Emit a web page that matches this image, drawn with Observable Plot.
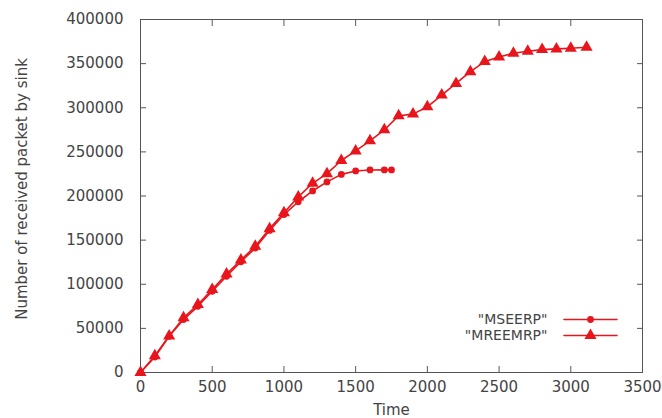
<!DOCTYPE html>
<html><head><meta charset="utf-8">
<script src="https://cdn.jsdelivr.net/npm/d3@7"></script>
<script src="https://cdn.jsdelivr.net/npm/@observablehq/plot@0.6"></script>
<style>body{margin:0;background:#fff;}</style>
</head><body><div id="chart"></div>
<script>
const seriesNames = ['"MSEERP"', '"MREEMRP"'];
const mseerpTime = [0,100,200,300,400,500,600,700,800,900,1000,1100,1200,1300,1400,1500,1600,1700,1750];
const mseerpPackets = [0,17500,41000,60000,75000,92000,109000,125500,141000,161000,179000,193500,205700,216000,224500,228400,229500,229600,229600];
const mreemrpTime = [0,100,200,300,400,500,600,700,800,900,1000,1100,1200,1300,1400,1500,1600,1700,1800,1900,2000,2100,2200,2300,2400,2500,2600,2700,2800,2900,3000,3110];
const mreemrpPackets = [0,19000,41500,62000,77000,94000,111500,127500,143000,163000,181000,199000,214400,225300,240200,251100,262500,275000,290900,292800,301100,314400,327600,340900,352300,357600,361700,364000,365900,366700,367400,368500];
const xTicks = [0,500,1000,1500,2000,2500,3000,3500];
const yTicks = [0,50000,100000,150000,200000,250000,300000,350000,400000];
const xLabel = "Time";
const yLabel = "Number of received packet by sink";

const red = "#e8161c";
const axisColor = "#555";
const rows1 = mseerpTime.map((t, i) => ({t, v: mseerpPackets[i]}));
const rows2 = mreemrpTime.map((t, i) => ({t, v: mreemrpPackets[i]}));
const lineShape = {draw(c, l) { c.moveTo(0, 0); c.lineTo(0, -l); }};

const chart = Plot.plot({
  width: 662, height: 418,
  marginLeft: 140, marginRight: 20, marginTop: 19, marginBottom: 46,
  style: {fontFamily: "DejaVu Sans", fontSize: "15px", color: "#444", background: "#fff"},
  x: {domain: [0, 3500]},
  y: {domain: [0, 400000]},
  marks: [
    Plot.axisX({ticks: xTicks, anchor: "bottom", tickSize: 0, tickPadding: 9, label: null, tickFormat: d => String(d), fill: "#444"}),
    Plot.axisX({ticks: xTicks, anchor: "bottom", tickSize: -6, tickFormat: () => "", label: null, stroke: axisColor}),
    Plot.axisX({ticks: xTicks, anchor: "top", tickSize: -6, tickFormat: () => "", label: null, stroke: axisColor}),
    Plot.axisY({ticks: yTicks, anchor: "left", tickSize: 0, tickPadding: 17, label: null, tickFormat: d => String(d), fill: "#444", letterSpacing: "0.8px"}),
    Plot.axisY({ticks: yTicks, anchor: "left", tickSize: -6, tickFormat: () => "", label: null, stroke: axisColor}),
    Plot.axisY({ticks: yTicks, anchor: "right", tickSize: -6, tickFormat: () => "", label: null, stroke: axisColor}),
    Plot.frame({stroke: axisColor}),
    Plot.text([xLabel], {frameAnchor: "bottom", lineAnchor: "middle", textAnchor: "middle", dy: 38, fill: "#444"}),
    Plot.text([yLabel], {frameAnchor: "left", textAnchor: "middle", lineAnchor: "middle", rotate: -90, dx: -118, dy: -7, fill: "#444"}),
    Plot.line(rows1, {x: "t", y: "v", stroke: red, strokeWidth: 1.6}),
    Plot.dot(rows1, {x: "t", y: "v", fill: red, r: 3.4, symbol: "circle"}),
    Plot.line(rows2, {x: "t", y: "v", stroke: red, strokeWidth: 1.6}),
    Plot.dot(rows2, {x: "t", y: "v", fill: red, r: 4.5, symbol: "triangle"}),
    // legend
    Plot.text([seriesNames[0]], {frameAnchor: "bottom-right", dx: -95, dy: -53, textAnchor: "end", lineAnchor: "middle", fontSize: 14, fill: "#444"}),
    Plot.text([seriesNames[1]], {frameAnchor: "bottom-right", dx: -95, dy: -37, textAnchor: "end", lineAnchor: "middle", fontSize: 14, fill: "#444"}),
    Plot.vector([seriesNames[0]], {frameAnchor: "bottom-right", dx: -52, dy: -53, length: 53, rotate: 90, anchor: "middle", shape: lineShape, stroke: red, strokeWidth: 1.6}),
    Plot.vector([seriesNames[1]], {frameAnchor: "bottom-right", dx: -52, dy: -37, length: 53, rotate: 90, anchor: "middle", shape: lineShape, stroke: red, strokeWidth: 1.6}),
    Plot.dot([seriesNames[0]], {frameAnchor: "bottom-right", dx: -52, dy: -53, fill: red, r: 3.4, symbol: "circle"}),
    Plot.dot([seriesNames[1]], {frameAnchor: "bottom-right", dx: -52, dy: -37, fill: red, r: 4.5, symbol: "triangle"})
  ]
});
document.getElementById("chart").append(chart);
</script>
</body></html>
